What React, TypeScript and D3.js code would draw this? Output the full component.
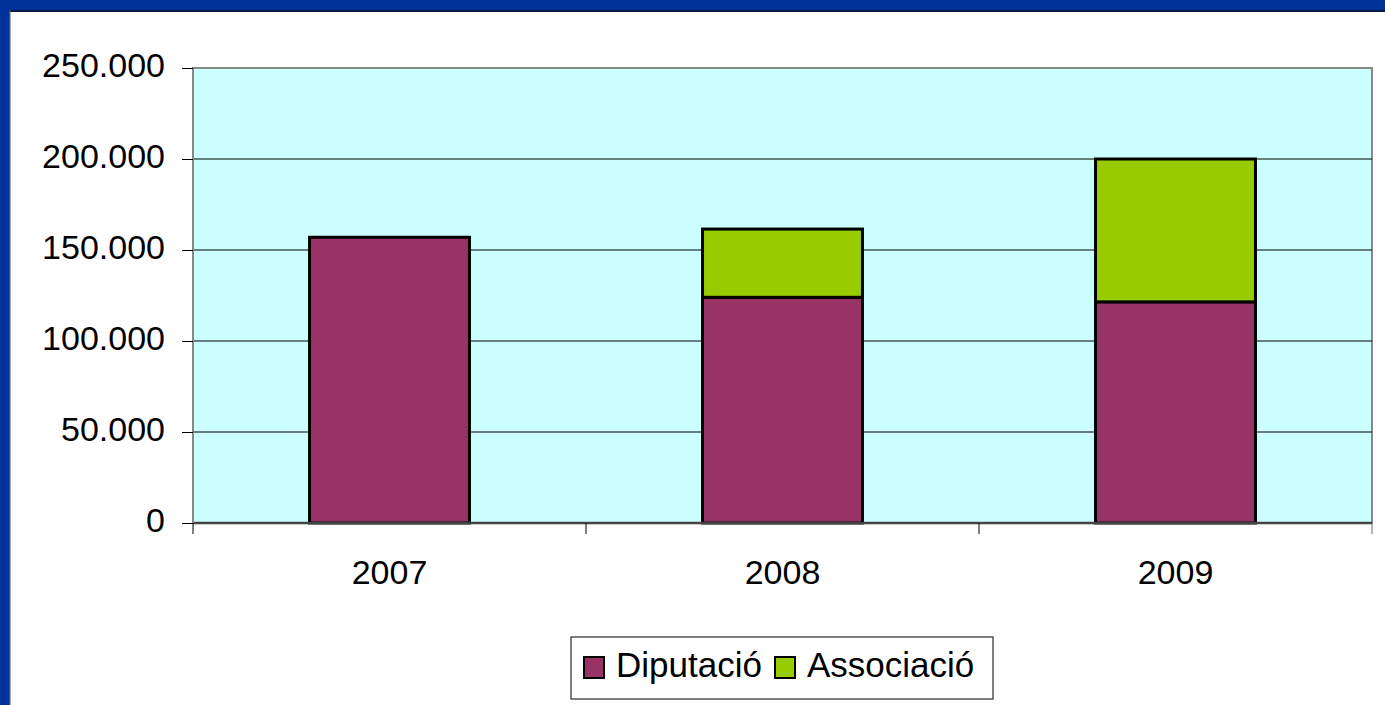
import { useEffect, useRef } from "react";
import { axisBottom, axisLeft, scaleBand, scaleLinear, select, stack } from "d3";

const years = ["2007", "2008", "2009"];
const diputacio = [157000, 124000, 121500];
const associacio = [0, 37500, 78500];
const yTicks = [0, 50000, 100000, 150000, 200000, 250000];
const seriesNames = ["Diputació", "Associació"];
const seriesColors = ["#993366", "#99CC00"];

const W = 1385;
const H = 705;
const plot = { left: 193, top: 68, right: 1372, bottom: 523 };
const FONT = "Liberation Sans, Arial, sans-serif";

const fmt = (v: number) => v.toString().replace(/\B(?=(\d{3})+(?!\d))/g, ".");

export default function App() {
  const xRef = useRef<SVGGElement>(null);
  const yRef = useRef<SVGGElement>(null);

  const x = scaleBand<string>()
    .domain(years)
    .range([plot.left, plot.right])
    .paddingInner(0.593)
    .paddingOuter(0.2965);
  const y = scaleLinear().domain([0, 250000]).range([plot.bottom, plot.top]);

  const rows = years.map((yr, i) => ({
    year: yr,
    d: diputacio[i],
    a: associacio[i],
  }));
  const layers = stack<any>().keys(["d", "a"])(rows);

  const band = scaleBand<string>().domain(years).range([plot.left, plot.right]);

  useEffect(() => {
    if (yRef.current) {
      const g = select(yRef.current);
      g.call(
        axisLeft(y)
          .tickValues(yTicks)
          .tickSize(11)
          .tickPadding(17)
          .tickFormat((d) => fmt(+d))
      );
      g.attr("font-size", null).attr("font-family", null);
      g.select(".domain").remove();
      g.selectAll(".tick line").attr("stroke", "#000");
      g.selectAll(".tick text")
        .attr("dy", "0.26em")
        .style("font-family", FONT)
        .style("font-size", "34px")
        .attr("fill", "#000");
    }
    if (xRef.current) {
      const g = select(xRef.current);
      g.call(axisBottom(band).tickSize(0).tickPadding(37));
      g.attr("font-size", null).attr("font-family", null);
      g.select(".domain").remove();
      g.selectAll(".tick line").remove();
      g.selectAll(".tick text")
        .style("font-family", FONT)
        .style("font-size", "34px")
        .attr("fill", "#000");
    }
  }, []);

  const catTicks = [...years.map((yr) => band(yr)!), plot.right];

  return (
    <svg
      width={W}
      height={H}
      style={{ position: "absolute", left: 0, top: 0 }}
    >
      <rect x={0} y={0} width={W} height={H} fill="#fff" />
      <rect x={0} y={0} width={W} height={10} fill="#003399" />
      <rect x={0} y={10} width={W} height={2} fill="#0a1a4a" />
      <rect x={0} y={0} width={9} height={H} fill="#003399" />
      <rect x={9} y={10} width={1.5} height={H} fill="#555" />

      <rect
        x={plot.left}
        y={plot.top}
        width={plot.right - plot.left}
        height={plot.bottom - plot.top}
        fill="#CCFFFF"
        stroke="#888"
        strokeWidth={2}
      />
      {yTicks.slice(1, -1).map((t) => (
        <line
          key={t}
          x1={plot.left}
          x2={plot.right}
          y1={y(t)}
          y2={y(t)}
          stroke="#000"
          strokeWidth={1}
        />
      ))}

      {layers.map((layer, li) =>
        layer.map((seg, i) =>
          seg[1] - seg[0] > 0 ? (
            <rect
              key={`${li}-${i}`}
              x={x(years[i])}
              y={y(seg[1])}
              width={x.bandwidth()}
              height={y(seg[0]) - y(seg[1])}
              fill={seriesColors[li]}
              stroke="#000"
              strokeWidth={3}
            />
          ) : null
        )
      )}

      <line
        x1={plot.left}
        x2={plot.right}
        y1={plot.bottom}
        y2={plot.bottom}
        stroke="#444"
        strokeWidth={2.5}
      />
      <line
        x1={plot.left}
        x2={plot.left}
        y1={plot.top}
        y2={plot.bottom}
        stroke="#888"
        strokeWidth={2}
      />
      {catTicks.map((cx, i) => (
        <line
          key={i}
          x1={cx}
          x2={cx}
          y1={plot.bottom}
          y2={plot.bottom + 11}
          stroke={i === catTicks.length - 1 ? "#666" : "#000"}
          strokeWidth={1}
        />
      ))}

      <g ref={yRef} transform={`translate(${plot.left},0)`} />
      <g ref={xRef} transform={`translate(0,${plot.bottom})`} />

      <g transform="translate(571,637)">
        <rect x={0} y={0} width={422} height={62} fill="#fff" stroke="#000" strokeWidth={1} />
        {seriesNames.map((n, i) => {
          const ox = i === 0 ? 13 : 204;
          return (
            <g key={n} transform={`translate(${ox},0)`}>
              <rect
                x={0}
                y={20}
                width={20}
                height={21}
                fill={seriesColors[i]}
                stroke="#000"
                strokeWidth={2}
              />
              <text
                x={32}
                y={40}
                fontFamily={FONT}
                fontSize={35}
                fill="#000"
              >
                {n}
              </text>
            </g>
          );
        })}
      </g>
    </svg>
  );
}
